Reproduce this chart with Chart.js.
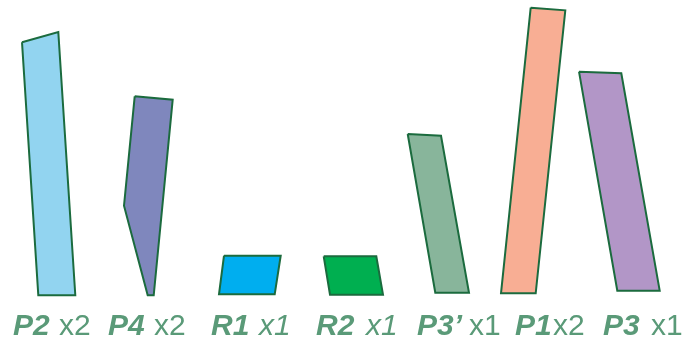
<!DOCTYPE html>
<html>
<head>
<meta charset="utf-8">
<script src="https://cdn.jsdelivr.net/npm/chart.js@4.4.1/dist/chart.umd.min.js"></script>
<style>
  html, body { margin: 0; padding: 0; background: #fff; }
  #wrap { width: 682px; height: 342px; }
</style>
</head>
<body>
<div id="wrap"><canvas id="shapes" width="682" height="342"></canvas></div>
<script>
/* ---- data: [x, height] vertices of each piece ---- */
var categories  = ['P2', 'P4', 'R1', 'R2', 'P3\u2019', 'P1', 'P3'];
var multipliers = ['x2', 'x2', 'x1', 'x1', 'x1', 'x2', 'x1'];

var P2  = [[22, 299.7], [58.3, 310], [75.3, 46.7], [38.3, 46.7]];
var P4  = [[134.7, 245.7], [172.7, 242.3], [153.7, 46.7], [147.7, 46.7], [124, 136.3]];
var R1  = [[224, 86.3], [280.7, 86.3], [274.7, 47.7], [219, 47.7]];
var R2  = [[323.7, 85.7], [376.3, 85.7], [383, 47.3], [330, 47.3]];
var P3b = [[407.7, 208], [441, 206.3], [469, 49.3], [435.3, 49.3]];
var P1  = [[530.7, 334.3], [565.3, 331.7], [535.7, 48.7], [501, 48.7]];
var P3  = [[579, 270.3], [621.3, 268.7], [659.7, 51.3], [617.3, 51.3]];

var pieces = [P2, P4, R1, R2, P3b, P1, P3];

/* ---- styling ---- */
var fills   = ['#92D4F0', '#7F87BD', '#00AEEF', '#00AF50', '#88B59B', '#F8AE94', '#B296C7'];
var outline = '#1B6B3E';
var textCol = '#5A9A78';
var multItalic = [false, false, true, true, false, false, false];
var nameLeft   = [13, 108, 211, 316, 417, 515, 603];
var multLeft   = [59, 154, 259, 366, 469, 553, 651];
var labelBase  = 7;   // baseline height in axis units

var datasets = pieces.map(function (pts, i) {
  var data = pts.map(function (p) { return { x: p[0], y: p[1] }; });
  data.push({ x: pts[0][0], y: pts[0][1] });
  return {
    label: categories[i],
    data: data,
    showLine: true,
    fill: 'shape',
    backgroundColor: fills[i],
    borderColor: outline,
    borderWidth: 2,
    borderJoinStyle: 'miter',
    tension: 0,
    pointRadius: 0,
    pointHoverRadius: 0
  };
});

var labelPlugin = {
  id: 'pieceLabels',
  afterDatasetsDraw: function (chart) {
    var ctx = chart.ctx;
    var xs = chart.scales.x, ys = chart.scales.y;
    var yb = ys.getPixelForValue(labelBase);
    ctx.save();
    ctx.fillStyle = textCol;
    ctx.textBaseline = 'alphabetic';
    ctx.textAlign = 'left';
    categories.forEach(function (name, i) {
      ctx.font = 'italic bold 30px "Liberation Sans", Arial, sans-serif';
      ctx.fillText(name, xs.getPixelForValue(nameLeft[i]), yb);
      ctx.font = (multItalic[i] ? 'italic ' : '') + '30px "Liberation Sans", Arial, sans-serif';
      ctx.fillText(multipliers[i], xs.getPixelForValue(multLeft[i]), yb);
    });
    ctx.restore();
  }
};

new Chart(document.getElementById('shapes').getContext('2d'), {
  type: 'scatter',
  data: { datasets: datasets },
  options: {
    responsive: false,
    devicePixelRatio: 1,
    animation: false,
    layout: { padding: 0 },
    plugins: { legend: { display: false }, tooltip: { enabled: false } },
    scales: {
      x: { type: 'linear', min: 0, max: 682, display: false },
      y: { type: 'linear', min: 0, max: 342, display: false }
    }
  },
  plugins: [labelPlugin]
});
</script>
</body>
</html>
